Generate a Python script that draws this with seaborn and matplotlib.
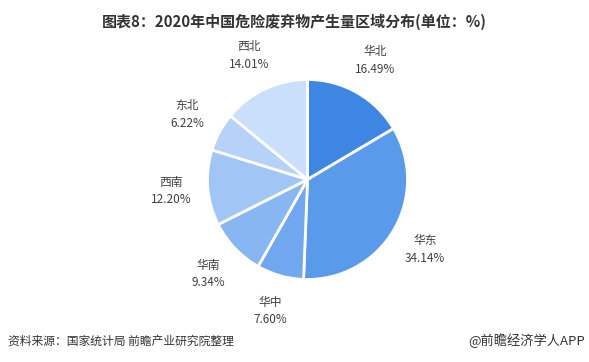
import matplotlib
matplotlib.use('Agg')
import matplotlib.pyplot as plt
import seaborn as sns
import numpy as np

sns.set_theme(style='white')
plt.rcParams['font.family'] = ['Noto Sans CJK SC', 'DejaVu Sans']

regions = ['华北', '华东', '华中', '华南', '西南', '东北', '西北']
shares = [16.49, 34.14, 7.60, 9.34, 12.20, 6.22, 14.01]
colors = ['#3d86e3', '#5a9aea', '#70a7ee', '#87b6f2', '#a1c5f5', '#b6d2f8', '#c9dffb']

W, H = 589, 362
fig = plt.figure(figsize=(W / 100, H / 100), dpi=100)
fig.patch.set_facecolor('white')

# pie centre ~(307.5, 179.5) px, radius ~100 px
cx, cy, r = 307.5, 179.5, 100
ax = fig.add_axes([(cx - r) / W, (H - cy - r) / H, 2 * r / W, 2 * r / H])

labels = [f'{n}\n{v:.2f}%' for n, v in zip(regions, shares)]
wedges, texts = ax.pie(shares, labels=labels, colors=colors, startangle=90,
                       counterclock=False, labeldistance=1.37,
                       wedgeprops=dict(edgecolor='white', linewidth=2),
                       textprops=dict(fontsize=8.5, color='#404040', linespacing=1.45))
for t in texts:
    t.set_ha('center')
    t.set_va('center')
ax.set_xlim(-1, 1)
ax.set_ylim(-1, 1)
ax.set_aspect('equal')

fig.text(0.5, 1 - 22 / H, '图表8：2020年中国危险废弃物产生量区域分布(单位：%)',
         ha='center', va='center', fontsize=10.8, fontweight='bold', color='#333333')
fig.text(8 / W, 1 - 341 / H, '资料来源：国家统计局 前瞻产业研究院整理',
         ha='left', va='center', fontsize=8.5, color='#333333')
fig.text(1 - 4 / W, 1 - 341 / H, '@前瞻经济学人APP',
         ha='right', va='center', fontsize=9.5, color='#333333')

fig.savefig('out.png', dpi=100)
